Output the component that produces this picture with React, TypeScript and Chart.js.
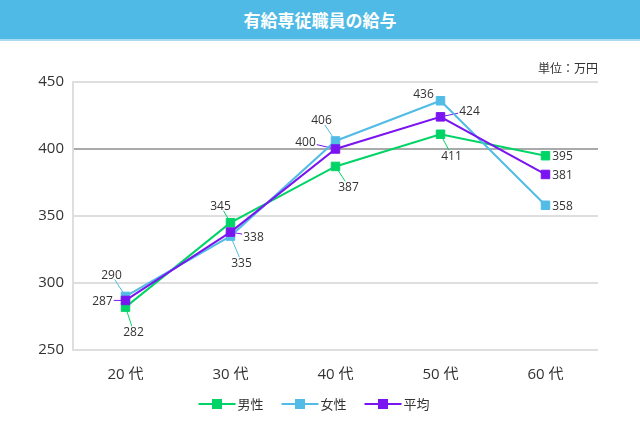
import React, { useEffect, useRef } from "react";
import { Chart, registerables } from "chart.js";
Chart.register(...registerables);

const titleText = "有給専従職員の給与";
const unitText = "単位：万円";
const categories = ["20 代", "30 代", "40 代", "50 代", "60 代"];
const seriesNames = ["男性", "女性", "平均"];
const maleValues = [282, 345, 387, 411, 395];
const femaleValues = [290, 335, 406, 436, 358];
const averageValues = [287, 338, 400, 424, 381];
const yMin = 250;
const yMax = 450;
const yStep = 50;

// label placement (px offsets from each point) — layout only
const maleLabelOffsets = [[8, 24], [-10, -17], [13, 20], [11, 21], [17, 0]];
const femaleLabelOffsets = [[-14, -22], [11, 26], [-14, -21], [-17, -7], [17, 0]];
const averageLabelOffsets = [[-23, 0], [23, 4], [-30, -7], [29, -6], [17, 0]];

const colors = ["#00d467", "#52bce6", "#7a14f0"];
const FONT = "'Open Sans', 'Noto Sans CJK JP', sans-serif";

const labelPlugin = {
  id: "pointLabels",
  beforeDatasetsDraw(chart: any) {
    const ctx = chart.ctx;
    ctx.save();
    ctx.font = `12px ${FONT}`;
    chart.data.datasets.forEach((ds: any, di: number) => {
      const meta = chart.getDatasetMeta(di);
      meta.data.forEach((pt: any, i: number) => {
        const [dx, dy] = ds.labelOffsets[i];
        const text = String(ds.data[i]);
        const w = ctx.measureText(text).width + 2;
        const h = 10;
        const adx = Math.abs(dx), ady = Math.abs(dy);
        const s = Math.min(adx > 0 ? w / 2 / adx : Infinity, ady > 0 ? h / 2 / ady : Infinity);
        if (s >= 1) return;
        const ex = pt.x + dx - s * dx;
        const ey = pt.y + dy - s * dy;
        if (Math.hypot(ex - pt.x, ey - pt.y) < 7) return;
        ctx.strokeStyle = ds.borderColor;
        ctx.lineWidth = 1;
        ctx.beginPath();
        ctx.moveTo(pt.x, pt.y);
        ctx.lineTo(ex, ey);
        ctx.stroke();
      });
    });
    ctx.restore();
  },
  afterDatasetsDraw(chart: any) {
    const ctx = chart.ctx;
    ctx.save();
    ctx.font = `12px ${FONT}`;
    ctx.fillStyle = "#333";
    ctx.textAlign = "center";
    ctx.textBaseline = "middle";
    chart.data.datasets.forEach((ds: any, di: number) => {
      const meta = chart.getDatasetMeta(di);
      meta.data.forEach((pt: any, i: number) => {
        const [dx, dy] = ds.labelOffsets[i];
        ctx.fillText(String(ds.data[i]), pt.x + dx, pt.y + dy + 1);
      });
    });
    ctx.restore();
  },
  afterDraw(chart: any) {
    const ctx = chart.ctx;
    const area = chart.chartArea;
    ctx.save();
    // unit text
    ctx.font = `12px ${FONT}`;
    ctx.fillStyle = "#333";
    ctx.textAlign = "right";
    ctx.textBaseline = "middle";
    ctx.fillText(unitText, area.right, 70);
    // legend
    ctx.font = `13px ${FONT}`;
    const lineLen = 37;
    const gapText = 2;
    const gapItem = 18;
    const widths = seriesNames.map((n) => lineLen + gapText + ctx.measureText(n).width);
    const total = widths.reduce((a, b) => a + b, 0) + gapItem * (seriesNames.length - 1);
    let x = 314 - total / 2;
    const y = 404;
    seriesNames.forEach((n, i) => {
      ctx.strokeStyle = colors[i];
      ctx.lineWidth = 2;
      ctx.beginPath();
      ctx.moveTo(x, y);
      ctx.lineTo(x + lineLen, y);
      ctx.stroke();
      ctx.fillStyle = colors[i];
      ctx.fillRect(x + lineLen / 2 - 5, y - 5, 10, 10);
      ctx.fillStyle = "#333";
      ctx.textAlign = "left";
      ctx.fillText(n, x + lineLen + gapText, y + 1);
      x += widths[i] + gapItem;
    });
    ctx.restore();
  },
};

export default function App() {
  const ref = useRef<HTMLCanvasElement | null>(null);
  useEffect(() => {
    document.body.style.margin = "0";
    const canvas = ref.current!;
    const mk = (label: string, data: number[], offs: number[][], color: string, order: number) => ({
      label,
      data,
      labelOffsets: offs,
      borderColor: color,
      backgroundColor: color,
      pointBackgroundColor: color,
      pointBorderColor: color,
      borderWidth: 2,
      pointStyle: "rect",
      pointRadius: 6,
      pointBorderWidth: 1,
      order,
      tension: 0,
    });
    const chart = new Chart(canvas, {
      type: "line",
      data: {
        labels: categories,
        datasets: [
          mk(seriesNames[0], maleValues, maleLabelOffsets, colors[0], 2),
          mk(seriesNames[1], femaleValues, femaleLabelOffsets, colors[1], 1),
          mk(seriesNames[2], averageValues, averageLabelOffsets, colors[2], 0),
        ] as any,
      },
      options: {
        animation: false,
        responsive: false,
        layout: { padding: { top: 82, right: 42, left: 0, bottom: 56 } },
        plugins: { legend: { display: false }, tooltip: { enabled: false } },
        scales: {
          x: {
            offset: true,
            grid: { display: false },
            border: { display: false },
            ticks: { font: { family: FONT, size: 15 }, color: "#333", padding: 8 },
            afterFit: (s: any) => { s.height = 30; },
          },
          y: {
            min: yMin,
            max: yMax,
            ticks: { stepSize: yStep, font: { family: FONT, size: 15 }, color: "#333", padding: 9 },
            grid: {
              drawTicks: false,
              lineWidth: 2,
              color: (c: any) => (c.tick && c.tick.value === 400 ? "#aaaaaa" : "#dedede"),
            },
            border: { display: true, color: "#dedede", width: 2 },
            afterFit: (s: any) => { s.width = 73; },
          },
        },
      },
      plugins: [labelPlugin],
    });
    return () => chart.destroy();
  }, []);
  return (
    <div style={{ position: "relative", width: 640, height: 436, background: "#fff", overflow: "hidden" }}>
      <canvas ref={ref} width={640} height={436} style={{ position: "absolute", left: 0, top: 0 }} />
      <div
        style={{
          position: "absolute",
          left: 0,
          top: 0,
          width: 640,
          height: 39,
          background: "#4fbae5",
          borderBottom: "2px solid #a9dcf2",
          color: "#fff",
          fontFamily: "'Noto Sans CJK JP', sans-serif",
          fontWeight: "bold",
          fontSize: 17,
          lineHeight: "39px",
          textAlign: "center",
        }}
      >
        {titleText}
      </div>
    </div>
  );
}
